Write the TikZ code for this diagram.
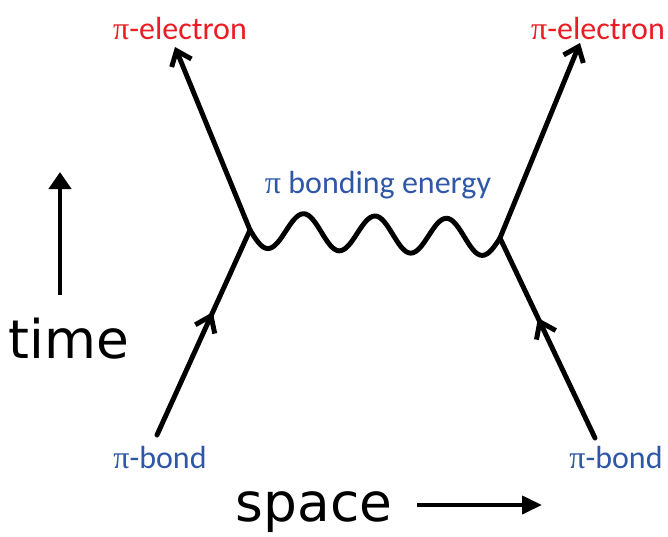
\documentclass[tikz,border=0pt]{standalone}
\usepackage{fontspec}
\setmainfont{Carlito}
\newfontfamily\axisfont{DejaVu Sans}
\newfontfamily\pifont{Liberation Serif}
\usetikzlibrary{arrows.meta,decorations.markings}
\definecolor{elecred}{HTML}{EC1C24}
\definecolor{bondblue}{HTML}{2F57A8}
\newcommand{\pisym}{{\pifont π}}

\begin{document}
\begin{tikzpicture}[x=0.75pt,y=-0.75pt,
  fermion/.style={line width=3.7pt,line cap=round},
  outgoing/.style={fermion,-{Straight Barb[length=10pt,width=16pt]}},
  incoming/.style={fermion,postaction={decorate},
    decoration={markings,mark=at position 0.6 with {\arrow{Straight Barb[length=11pt,width=16pt]}}}},
  photon/.style={line width=3.7pt,line join=round},
  elec/.style={text=elecred,font=\fontsize{24}{28}\selectfont,inner sep=0pt,anchor=base},
  bondlbl/.style={text=bondblue,font=\fontsize{24}{28}\selectfont,inner sep=0pt,anchor=base},
  axislbl/.style={font=\axisfont\fontsize{40}{46}\selectfont,inner sep=0pt,anchor=base}]
  \useasboundingbox (0,0) rectangle (668,536);
  % vertices and free ends
  \coordinate (vL) at (250,230);
  \coordinate (vR) at (500,238);
  \coordinate (bL) at (157,435);
  \coordinate (bR) at (595,438);
  \coordinate (eL) at (175,47);
  \coordinate (eR) at (580,43);
  % fermion lines
  \draw[incoming] (bL) -- (vL);
  \draw[outgoing] (vL) -- (eL);
  \draw[incoming] (bR) -- (vR);
  \draw[outgoing] (vR) -- (eR);
  % exchanged wave
  \draw[photon] (vL) \foreach \s in {1,-1,1,-1,1,-1,1}
    { sin ++(17.86,{18*\s+0.57}) cos ++(17.86,{-18*\s+0.57}) };
  % labels
  \node[elec] (elecL) at (180,39) {\pisym-electron};
  \node[elec] (elecR) at (598,39) {\pisym-electron};
  \node[bondlbl] (energy) at (378,193) {\pisym\ bonding energy};
  \node[bondlbl] (bondL) at (160,468) {\pisym-bond};
  \node[bondlbl] (bondR) at (616,468) {\pisym-bond};
  % axes
  \node[axislbl] (time) at (69,358) {time};
  \node[axislbl] (space) at (314,521) {space};
  \coordinate (tA) at (60,295);
  \coordinate (tB) at (60,172);
  \coordinate (sA) at (417,505);
  \coordinate (sB) at (542,505);
  \draw[line width=3.6pt,-{Triangle[length=12.75pt,width=16.5pt]}] (tA) -- (tB);
  \draw[line width=3pt,-{Triangle[length=15pt,width=13.5pt]}] (sA) -- (sB);
\end{tikzpicture}
\end{document}
